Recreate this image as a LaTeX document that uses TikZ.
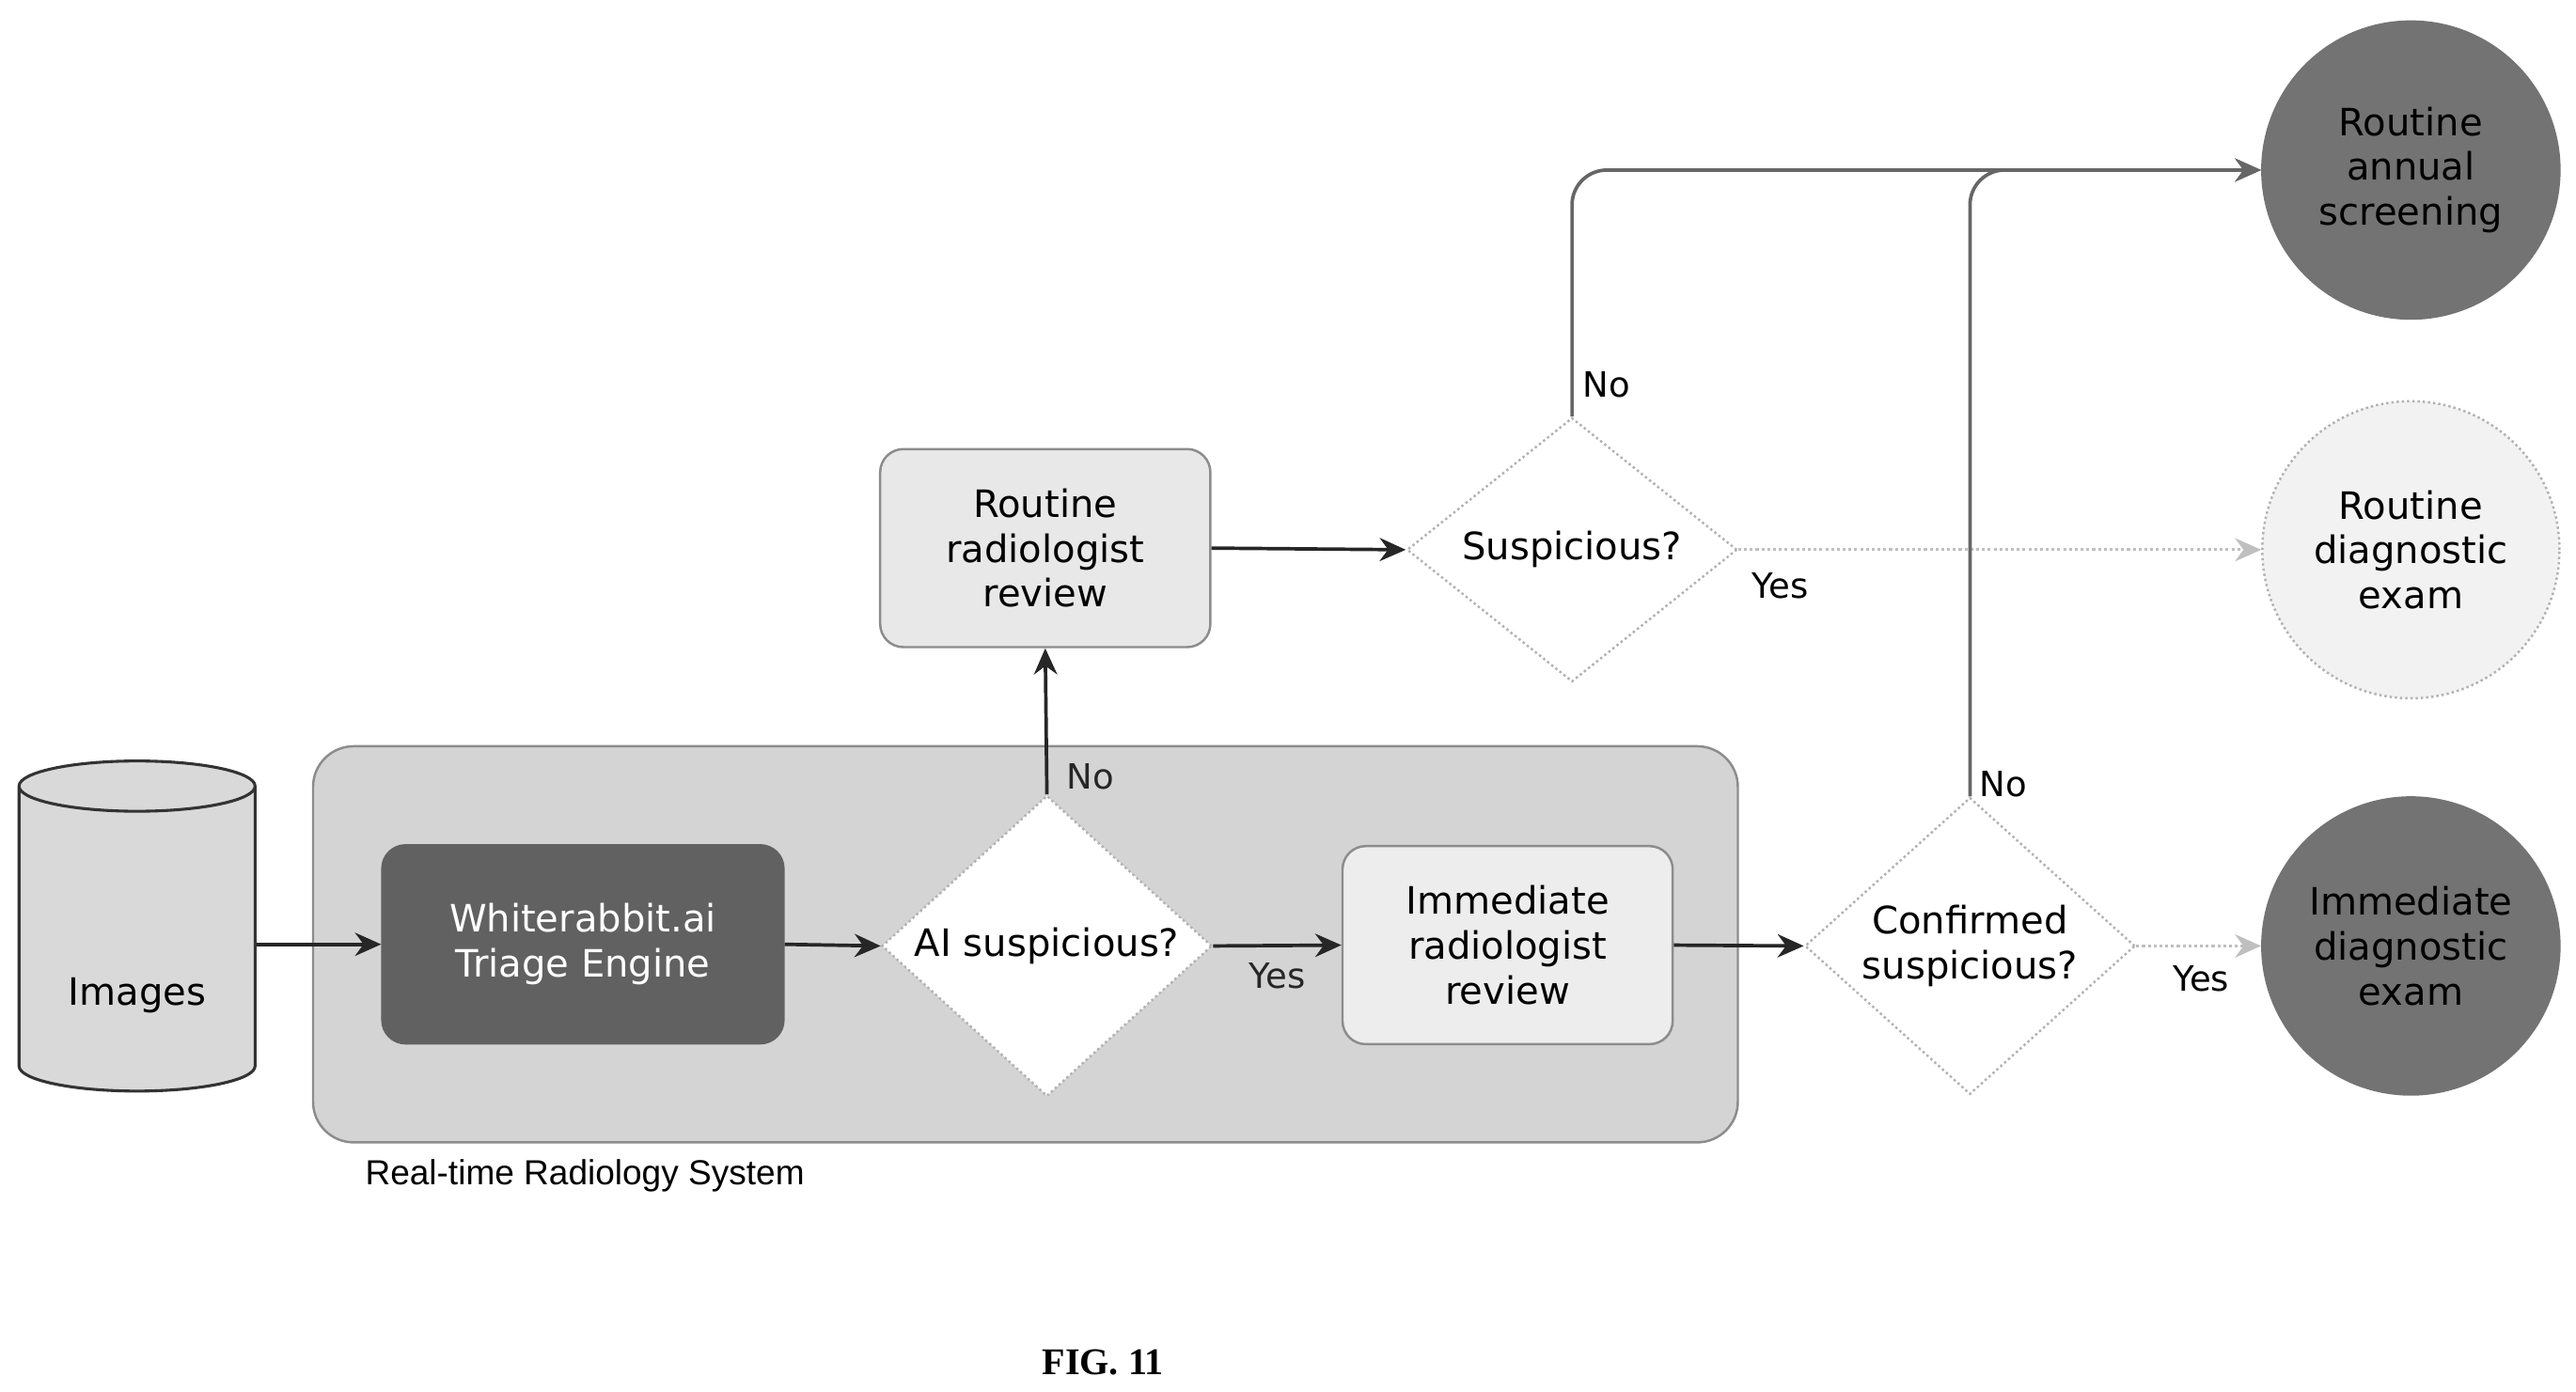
\documentclass[tikz,border=0pt]{standalone}
\usepackage{fontspec}
\setmainfont{DejaVu Sans}
\newfontfamily\lib{Liberation Sans}
\usetikzlibrary{shapes.geometric,arrows.meta}
\begin{document}
\begin{tikzpicture}[x=0.02cm,y=-0.02cm,
  font=\fontsize{13}{15.5}\selectfont,
  box/.style={draw=black!45,fill=black!9,rounded corners=8pt,minimum width=4cm,minimum height=2.4cm,align=center,line width=0.8pt},
  dia/.style={diamond,draw=gray!60,densely dotted,fill=white,minimum width=4cm,minimum height=3.2cm,inner sep=0pt,align=center,line width=0.8pt},
  circ/.style={circle,draw=gray!70,minimum size=3.6cm,align=center,inner sep=0pt,line width=0.8pt},
  arr/.style={-{Stealth[length=9pt,width=8pt]},line width=1.2pt,black!85},
  dotarr/.style={-{Stealth[length=9pt,width=8pt]},densely dotted,line width=1pt,gray!50},
  lbl/.style={font=\fontsize{12}{14}\selectfont}]
\useasboundingbox (0,0) rectangle (1560,843);
% container
\node[draw=black!45,fill=black!17,rounded corners=14pt,minimum width=17.26cm,minimum height=4.8cm,line width=0.8pt] (sys) at (621,572) {};
\node[font=\lib\fontsize{12}{14}\selectfont,anchor=west] (syslbl) at (215,712) {Real-time Radiology System};
% images cylinder
\node[cylinder,shape border rotate=90,draw=black!80,fill=black!15,minimum width=2.86cm,minimum height=4cm,aspect=2.6,line width=1pt] (img) at (83,572) {};
\node (imgt) at (83,603) {Images};
\node[box,fill=black!62,draw=black!62,text=white,minimum width=4.86cm] (wr) at (353,572) {Whiterabbit.ai\\Triage Engine};
\node[dia] (ai) at (634,573) {AI suspicious?};
\node[box,fill=black!7] (irr) at (913,572.5) {Immediate\\radiologist\\review};
\node[dia] (conf) at (1193,573) {Confirmed\\suspicious?};
\node[circ,fill=black!55,draw=black!55] (ide) at (1460,573) {Immediate\\diagnostic\\exam};
\node[box] (rrr) at (633,332) {Routine\\radiologist\\review};
\node[dia] (susp) at (952,333) {Suspicious?};
\node[circ,fill=black!5,densely dotted,draw=gray!60] (rde) at (1460,333) {Routine\\diagnostic\\exam};
\node[circ,fill=black!55,draw=black!55] (ras) at (1460,103) {Routine\\annual\\screening};
% arrows
\draw[arr] (img.east|-wr) -- (wr.west);
\draw[arr] (wr.east) -- (ai.west);
\draw[arr] (ai.east) -- node[lbl,below=2pt] {Yes} (irr.west);
\draw[arr] (ai.north) -- node[lbl,right=3pt,pos=0.12] {No} (rrr.south);
\draw[arr] (rrr.east) -- (susp.west);
\draw[arr] (irr.east) -- (conf.west);
\draw[dotarr] (susp.east) -- (rde.west);
\node[lbl] (y1) at (1078,355) {Yes};
\draw[dotarr] (conf.east) -- (ide.west);
\node[lbl] (y2) at (1333,593) {Yes};
\draw[arr,black!60,rounded corners=12pt] (susp.north) -- (952,103) -- (ras.west);
\node[lbl] (n1) at (973,233) {No};
\draw[arr,black!60,rounded corners=12pt] (conf.north) -- (1193,103) -- (ras.west);
\node[lbl] (n2) at (1213,475) {No};
\node[font=\fontspec{Liberation Serif}\bfseries\fontsize{13}{15}\selectfont] (fig) at (668,825) {FIG. 11};
\end{tikzpicture}
\end{document}
